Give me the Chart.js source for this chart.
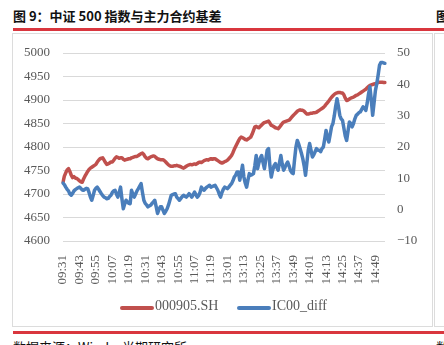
<!DOCTYPE html>
<html><head><meta charset="utf-8">
<script src="https://cdn.jsdelivr.net/npm/chart.js@4/dist/chart.umd.min.js"></script>
<style>
html,body{margin:0;padding:0;background:#fff;width:444px;height:345px;overflow:hidden;position:relative}
.t{position:absolute;font-family:"Noto Sans CJK SC",sans-serif;font-weight:bold;font-size:13px;color:#111;white-space:nowrap}
.bar{position:absolute;background:#d9363e}
.box{position:absolute;border:1px solid #dcdcdc;background:#fff}
canvas{position:absolute;left:0;top:0}
.lg{position:absolute;font-family:"Liberation Serif",serif;font-size:14px;color:#595959;white-space:nowrap}
.ls{position:absolute;height:4px;border-radius:2px}
</style></head><body>
<div class="t" style="left:13px;top:6px">图 9：中证 500 指数与主力合约基差</div>
<div class="t" style="left:436px;top:6px">图</div>
<div class="bar" style="left:13px;top:28px;width:431px;height:3px"></div>
<div class="box" style="left:12px;top:33px;width:419px;height:292px"></div>
<div class="box" style="left:434px;top:33px;width:20px;height:292px"></div>
<div class="bar" style="left:13px;top:331px;width:431px;height:3px"></div>
<div class="t" style="left:13px;top:337px;font-weight:normal">数据来源：Wind，光期研究所</div>
<div class="t" style="left:436px;top:337px;font-weight:normal">数</div>
<canvas id="c" width="444" height="345"></canvas>
<div class="ls" style="left:120px;top:306px;width:34px;background:#c0504d"></div>
<div class="lg" style="left:155px;top:298px">000905.SH</div>
<div class="ls" style="left:237px;top:306px;width:34px;background:#4a7ebb"></div>
<div class="lg" style="left:272px;top:298px">IC00_diff</div>
<script>
// categories: trading minutes 09:31-11:30, 13:01-14:56
const times = [];
function addSession(h0, m0, h1, m1) {
  let h = h0, m = m0;
  while (h < h1 || (h === h1 && m <= m1)) {
    times.push(String(h).padStart(2, '0') + ':' + String(m).padStart(2, '0'));
    m++; if (m === 60) { m = 0; h++; }
  }
}
addSession(9, 31, 11, 30);
addSession(13, 1, 14, 56);

const seriesNames = ['000905.SH', 'IC00_diff'];

const index500 = [
4725,4738,4745,4751,4754,4748,4740,4735,4737,4734,4733,4731,
4728,4726,4725,4732,4738,4743,4748,4752,4755,4757,4759,4761,
4763,4768,4772,4775,4776,4777,4772,4767,4763,4764,4766,4768,
4768,4772,4776,4779,4778,4776,4777,4777,4774,4772,4773,4774,
4775,4775,4777,4778,4779,4780,4780,4782,4784,4786,4787,4784,
4779,4776,4775,4777,4779,4780,4781,4780,4777,4775,4774,4773,
4773,4773,4771,4768,4765,4762,4760,4759,4759,4760,4760,4761,
4760,4759,4758,4756,4755,4757,4759,4761,4762,4763,4762,4763,
4764,4763,4765,4767,4768,4767,4769,4771,4772,4773,4772,4774,
4775,4774,4775,4775,4773,4771,4769,4767,4766,4767,4769,4770,
4772,4775,4778,4782,4788,4795,4801,4807,4813,4818,4821,4820,
4818,4816,4815,4817,4819,4821,4827,4835,4843,4844,4842,4841,
4844,4847,4850,4852,4853,4854,4855,4851,4846,4845,4843,4841,
4840,4839,4842,4846,4850,4853,4854,4855,4856,4857,4860,4864,
4867,4870,4873,4876,4878,4879,4878,4878,4876,4873,4870,4870,
4871,4872,4872,4873,4873,4874,4876,4878,4880,4882,4884,4887,
4891,4894,4898,4902,4906,4909,4912,4914,4915,4916,4916,4915,
4915,4911,4904,4899,4900,4902,4904,4905,4906,4908,4910,4911,
4913,4915,4917,4919,4921,4923,4926,4929,4931,4932,4933,4934,
4935,4936,4937,4938,4938,4938,4937,4937
];

const basisDiff = [
8.5,8.0,7.2,6.5,6.0,5.0,4.6,5.2,6.0,6.4,6.7,7.0,
7.2,6.8,6.3,6.2,6.5,6.8,6.7,5.5,4.0,3.0,4.5,6.2,
6.8,7.2,6.5,5.8,5.1,4.5,4.0,3.8,3.5,3.6,4.2,4.6,
5.5,6.0,6.2,5.0,4.0,5.5,7.2,3.5,0.3,1.8,3.0,2.5,
2.0,1.9,6.2,5.0,4.0,5.0,6.0,6.7,7.5,8.3,5.5,3.0,
2.0,1.5,0.9,1.2,1.4,2.0,2.5,3.0,1.0,-1.2,0.0,0.9,
0.9,-0.2,-1.2,-0.5,0.3,1.5,3.0,4.6,4.8,5.0,5.1,4.0,
3.5,3.0,3.6,4.2,4.6,4.3,4.0,4.5,5.1,4.6,4.0,4.8,
5.6,4.8,4.0,4.5,5.5,7.2,6.5,6.2,6.8,7.2,7.5,7.8,
7.2,7.4,7.6,7.8,7.0,6.2,5.0,4.0,5.5,6.5,7.2,7.0,
6.7,7.2,7.8,8.3,9.2,10.4,11.0,12.0,12.0,9.4,11.5,14.2,
10.5,8.5,7.2,9.5,11.5,11.0,11.2,11.5,14.0,17.3,13.1,15.0,
16.5,17.3,15.0,13.1,16.0,19.0,19.5,14.0,10.4,12.5,14.0,14.7,
13.5,12.6,15.0,17.3,14.5,12.6,13.5,14.5,15.2,14.0,12.5,11.8,
11.5,16.0,20.0,22.1,21.0,19.5,18.0,16.3,14.0,11.0,15.0,19.0,
21.1,19.0,16.8,17.5,18.5,19.5,19.0,19.0,18.5,19.5,20.0,22.5,
25.3,23.0,21.6,24.0,26.5,27.5,30.0,33.0,35.4,33.0,30.1,29.0,
28.5,26.0,23.5,22.1,25.0,28.0,27.5,26.4,27.5,29.0,30.1,30.5,
31.0,31.2,32.0,32.8,32.5,31.7,34.0,37.0,39.2,35.0,30.1,34.0,
38.0,40.2,43.0,46.1,47.0,47.0,46.8,46.7
];

const leftTicks = [4600, 5000, 50];   // min, max, step
const rightTicks = [-10, 50, 10];     // min, max, step
const labelEvery = 12;

const tickFont = { family: '"Liberation Serif", serif', size: 13 };
const tickColor = '#595959';

new Chart(document.getElementById('c'), {
  type: 'line',
  data: {
    labels: times,
    datasets: [
      { label: seriesNames[0], data: index500, yAxisID: 'y', borderColor: '#c0504d', borderWidth: 3.5, pointRadius: 0, tension: 0, order: 1, borderCapStyle: 'round', borderJoinStyle: 'round' },
      { label: seriesNames[1], data: basisDiff, yAxisID: 'y1', borderColor: '#4a7ebb', borderWidth: 3.5, pointRadius: 0, tension: 0, order: 0, borderCapStyle: 'round', borderJoinStyle: 'round' }
    ]
  },
  options: {
    responsive: false,
    animation: false,
    layout: { padding: { top: 53, bottom: 54, left: 0, right: 0 } },
    plugins: { legend: { display: false }, tooltip: { enabled: false } },
    scales: {
      x: {
        grid: { display: false },
        border: { display: false },
        ticks: {
          autoSkip: false, minRotation: 90, maxRotation: 90, padding: 6,
          font: tickFont, color: tickColor,
          callback: (v, i) => (i % labelEvery === 0 ? times[i] : null)
        },
        afterFit: s => { s.height = 50; }
      },
      y: {
        position: 'left',
        min: leftTicks[0], max: leftTicks[1],
        grid: { color: '#d9d9d9', lineWidth: 1, drawTicks: false },
        border: { display: false },
        ticks: { stepSize: leftTicks[2], padding: 13, font: tickFont, color: tickColor,
          callback: v => String(v) },
        afterFit: s => { s.width = 63; }
      },
      y1: {
        position: 'right',
        min: rightTicks[0], max: rightTicks[1],
        grid: { display: false, drawTicks: false },
        border: { display: false },
        ticks: { stepSize: rightTicks[2], padding: 12, font: tickFont, color: tickColor,
          callback: v => String(v).replace('-', '\u2212') },
        afterFit: s => { s.width = 59; }
      }
    }
  }
});
</script>
</body></html>
